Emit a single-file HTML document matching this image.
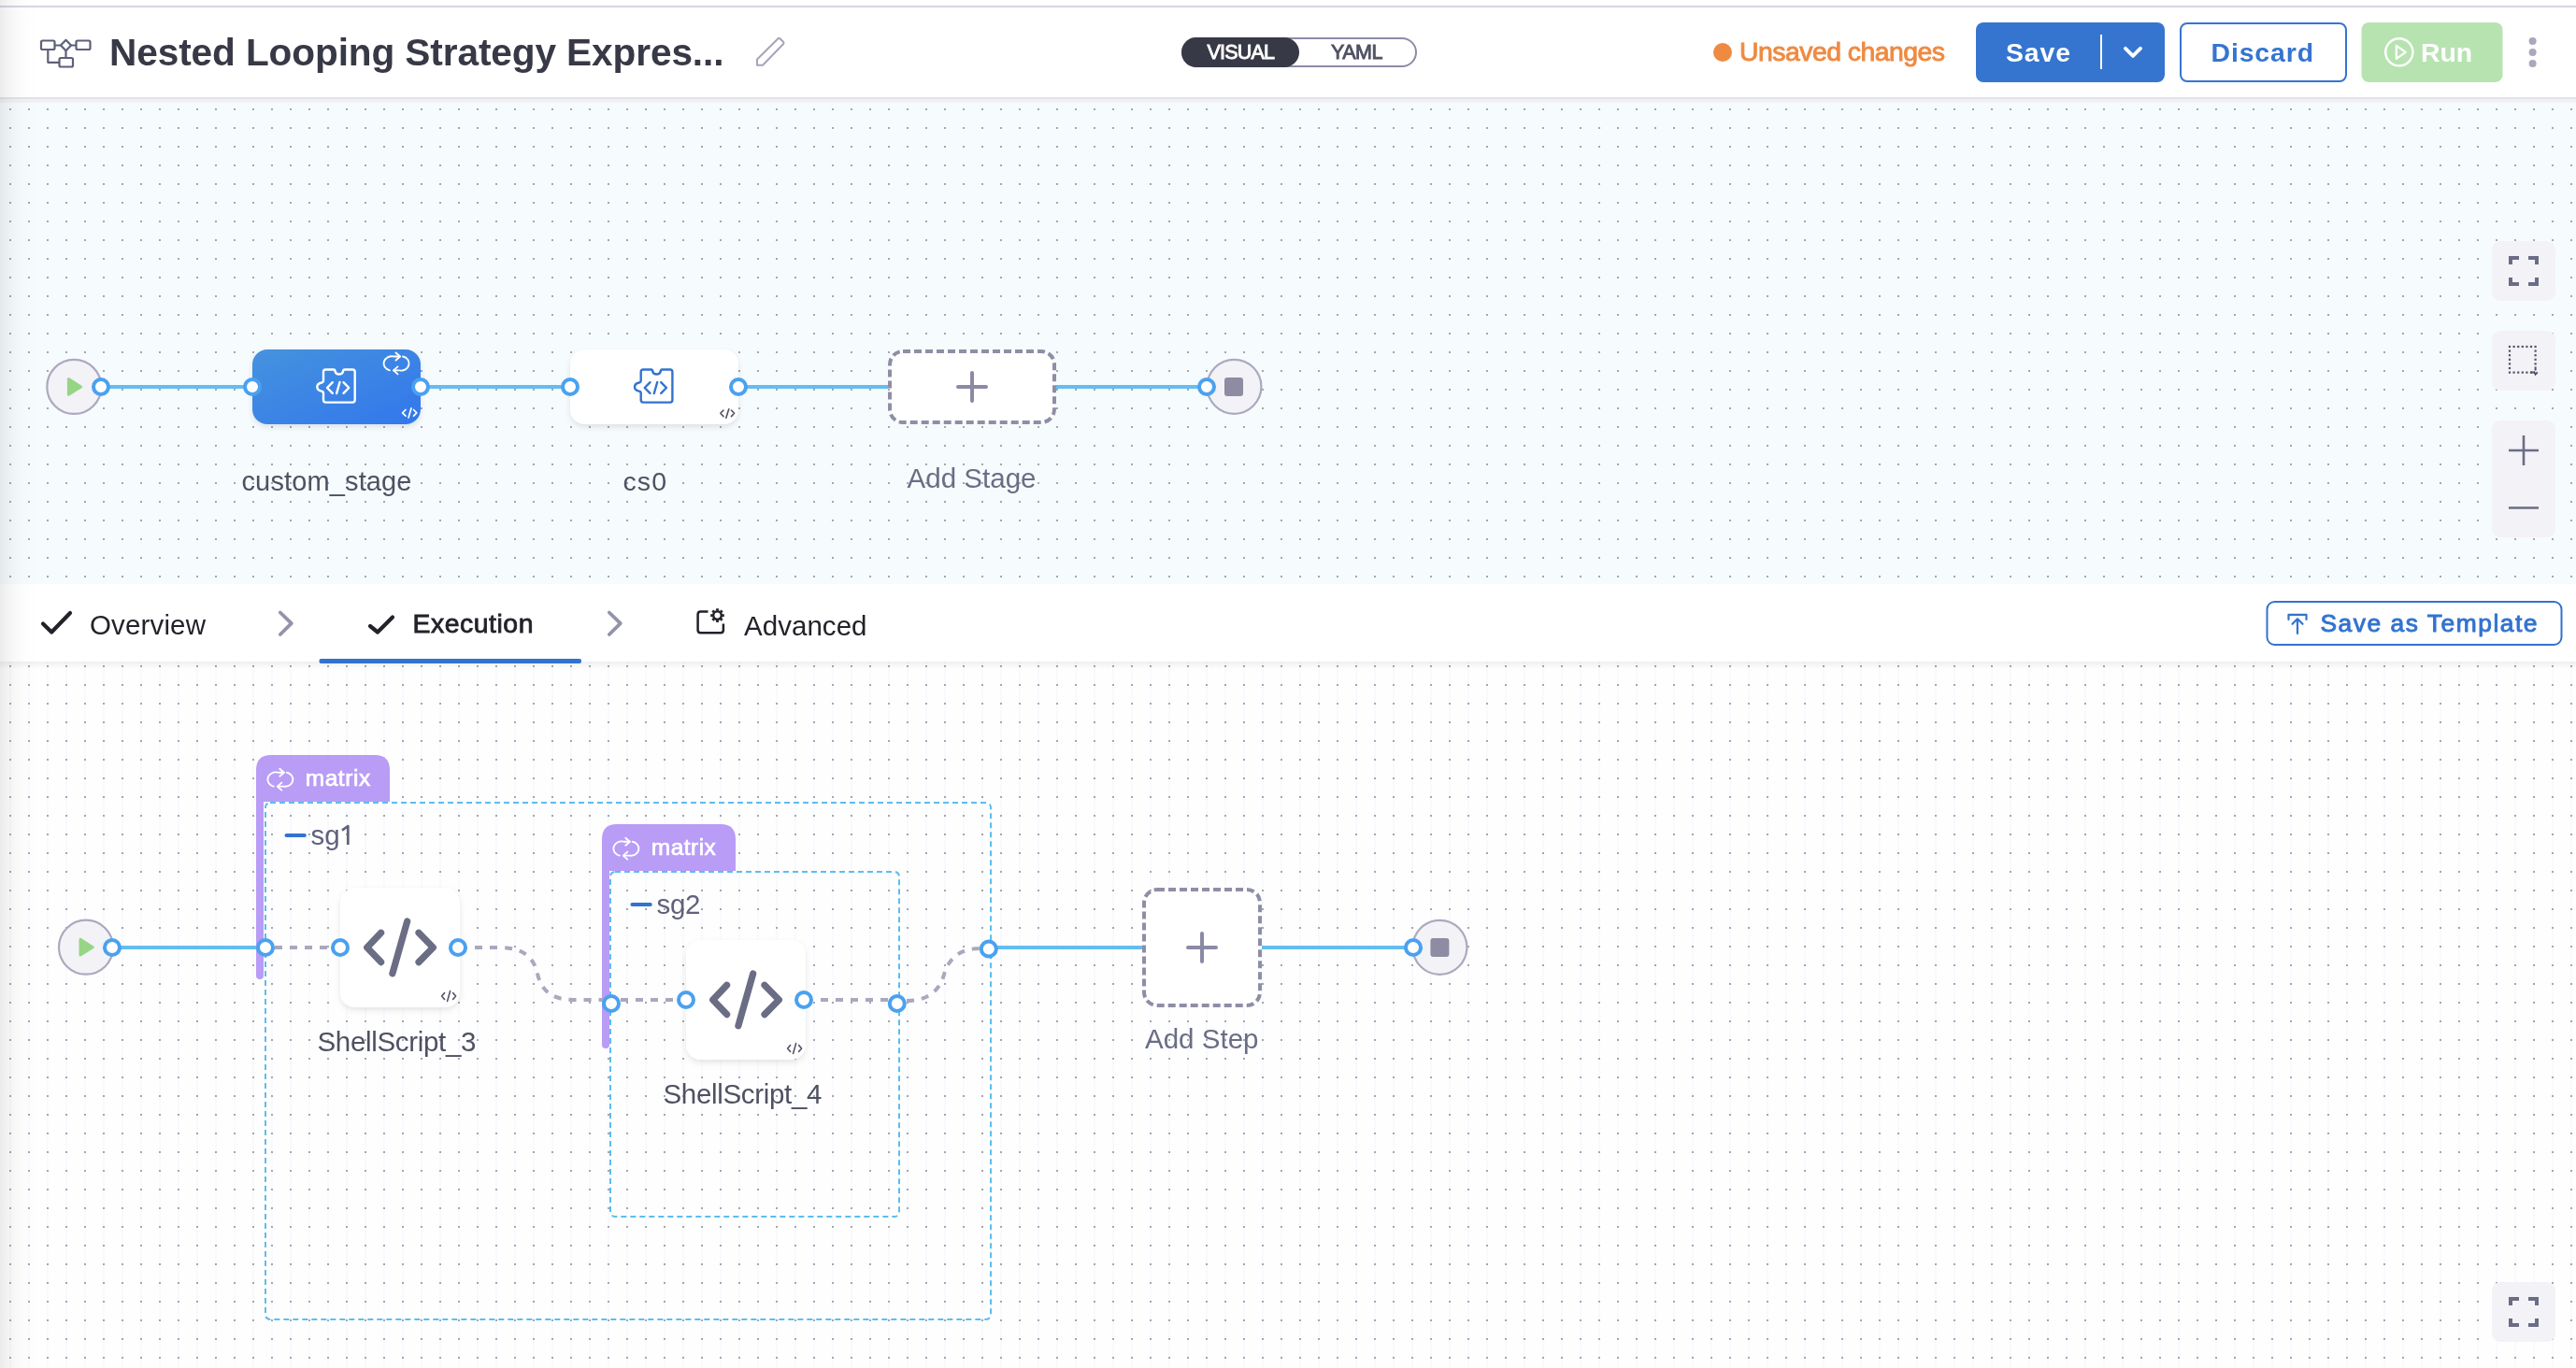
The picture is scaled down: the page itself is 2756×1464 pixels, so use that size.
<!DOCTYPE html>
<html><head><meta charset="utf-8">
<style>
html,body{margin:0;padding:0;}
body{width:2756px;height:1464px;overflow:hidden;position:relative;background:#fff;font-family:"Liberation Sans",sans-serif;}
.abs{position:absolute;}
svg text{font-family:"Liberation Sans",sans-serif;}
svg{will-change:transform;}
</style></head>
<body>
<svg class="abs" style="left:0;top:0" width="2756" height="1464" viewBox="0 0 2756 1464">
<defs>
  <pattern id="dotsTop" x="10" y="116" width="20" height="20" patternUnits="userSpaceOnUse">
    <rect x="0" y="0" width="2" height="2" fill="#a4a7ab"/>
  </pattern>
  <pattern id="dotsBot" x="10" y="712" width="20" height="20" patternUnits="userSpaceOnUse">
    <rect x="0" y="0" width="2" height="20" fill="#f7fafe"/>
    <rect x="0" y="0" width="2" height="2" fill="#a4a7ab"/>
  </pattern>
  <linearGradient id="leftShade" x1="0" y1="0" x2="1" y2="0">
    <stop offset="0" stop-color="#000" stop-opacity="0.075"/>
    <stop offset="0.2" stop-color="#000" stop-opacity="0.045"/>
    <stop offset="0.45" stop-color="#000" stop-opacity="0.02"/>
    <stop offset="0.7" stop-color="#000" stop-opacity="0.007"/>
    <stop offset="1" stop-color="#000" stop-opacity="0"/>
  </linearGradient>
  <linearGradient id="stageGrad" x1="0" y1="0" x2="1" y2="1">
    <stop offset="0" stop-color="#4692de"/>
    <stop offset="1" stop-color="#3277ec"/>
  </linearGradient>
  <linearGradient id="shadeDown" x1="0" y1="0" x2="0" y2="1">
    <stop offset="0" stop-color="#000" stop-opacity="0.06"/>
    <stop offset="1" stop-color="#000" stop-opacity="0"/>
  </linearGradient>
  <filter id="nodeShadow" x="-20%" y="-20%" width="140%" height="150%">
    <feDropShadow dx="0" dy="3" stdDeviation="3" flood-color="#000" flood-opacity="0.10"/>
  </filter>
</defs>

<!-- HEADER -->
<rect x="0" y="0" width="2756" height="104" fill="#fff"/>
<rect x="0" y="6" width="2756" height="2" fill="#d6d6e0"/>
<rect x="0" y="104" width="2756" height="2" fill="#e3e3e6"/>
<rect x="0" y="106" width="2756" height="4" fill="#f1f0f6"/>

<!-- TOP CANVAS -->
<rect x="0" y="110" width="2756" height="515" fill="#f6fbfe"/>
<rect x="0" y="110" width="2756" height="515" fill="url(#dotsTop)"/>

<!-- TABS -->
<rect x="0" y="625" width="2756" height="83" fill="#fff"/>

<!-- BOTTOM CANVAS -->
<rect x="0" y="708" width="2756" height="756" fill="#fefefe"/>
<rect x="0" y="708" width="2756" height="756" fill="url(#dotsBot)"/>
<rect x="0" y="708" width="2756" height="8" fill="url(#shadeDown)"/>


<!-- ===== HEADER CONTENT ===== -->
<!-- pipeline icon -->
<g fill="none" stroke="#5f6078" stroke-width="2.2" stroke-linejoin="round">
  <rect x="44" y="43.5" width="14.5" height="9.5" rx="1.5"/>
  <rect x="81.5" y="43.5" width="15" height="9.5" rx="1.5"/>
  <rect x="63.5" y="62" width="14.5" height="9.5" rx="1.5"/>
  <path d="M70.5,42.8 L76,48.5 L70.5,54.2 L65,48.5 Z"/>
  <path d="M58.5,48.5 H65 M76,48.5 H81.5 M70.5,54.2 V62 M51.3,53 V66.8 H63.5"/>
</g>
<text x="117" y="69.9" font-size="40.6" font-weight="700" fill="#383946" textLength="657.5" lengthAdjust="spacing">Nested Looping Strategy Expres...</text>
<!-- pencil -->
<path d="M810,63.5 L832.5,41.2 Q833.5,40.4 834.5,41.2 L838.2,45 Q839,46 838.2,47 L816,69.8 H810 Z" fill="none" stroke="#a4a4bb" stroke-width="2" stroke-linejoin="round"/>

<!-- toggle -->
<rect x="1265" y="41" width="250" height="30" rx="15" fill="#fff" stroke="#8c8ba7" stroke-width="2"/>
<rect x="1264" y="40" width="126" height="32" rx="16" fill="#383946"/>
<text x="1291.5" y="63.2" font-size="21.5" fill="#fff" stroke="#fff" stroke-width="0.9" textLength="72.5" lengthAdjust="spacing">VISUAL</text>
<text x="1424" y="63.2" font-size="21.5" fill="#4f5162" stroke="#4f5162" stroke-width="0.9" textLength="55.5" lengthAdjust="spacing">YAML</text>

<!-- unsaved -->
<circle cx="1843" cy="56" r="10" fill="#ef8a42"/>
<text x="1861" y="65" font-size="28.4" fill="#ef8a42" stroke="#ef8a42" stroke-width="0.9" textLength="220" lengthAdjust="spacing">Unsaved changes</text>

<!-- save -->
<rect x="2114" y="24" width="202" height="64" rx="8" fill="#3575d0"/>
<text x="2146" y="65.7" font-size="28.4" font-weight="700" fill="#fff" textLength="69" lengthAdjust="spacing">Save</text>
<rect x="2247" y="37" width="2" height="37" fill="#fff"/>
<path d="M2274,51.8 L2282,59.8 L2290,51.8" fill="none" stroke="#fff" stroke-width="3.8" stroke-linecap="round" stroke-linejoin="round"/>
<!-- discard -->
<rect x="2333" y="25" width="177" height="62" rx="7" fill="#fff" stroke="#3575d0" stroke-width="2"/>
<text x="2365.5" y="65.7" font-size="28.4" font-weight="700" fill="#3575d0" textLength="109.5" lengthAdjust="spacing">Discard</text>
<!-- run -->
<rect x="2526.5" y="24" width="151" height="64" rx="8" fill="#b7e3b1"/>
<circle cx="2566.8" cy="55.8" r="14.6" fill="none" stroke="#fff" stroke-width="2.4"/>
<path d="M2563.8,48.8 L2573.8,55.8 L2563.8,62.8 Z" fill="none" stroke="#fff" stroke-width="2.2" stroke-linejoin="round"/>
<text x="2590" y="65.7" font-size="28.4" font-weight="700" fill="#fff" textLength="55" lengthAdjust="spacing">Run</text>
<!-- kebab -->
<circle cx="2709.6" cy="44" r="4" fill="#a9a8bd"/>
<circle cx="2709.6" cy="56" r="4" fill="#a9a8bd"/>
<circle cx="2709.6" cy="68" r="4" fill="#a9a8bd"/>

<!-- ===== TOP CANVAS CONTENT ===== -->
<g stroke="#64bdf0" stroke-width="4">
  <line x1="108" y1="414" x2="270" y2="414"/>
  <line x1="450" y1="414" x2="610" y2="414"/>
  <line x1="790" y1="414" x2="950" y2="414"/>
  <line x1="1130" y1="414" x2="1291" y2="414"/>
</g>
<!-- start -->
<circle cx="79.3" cy="413.9" r="29" fill="#f3f2f7" stroke="#aba9be" stroke-width="2.2"/>
<path d="M73.4,405.6 L86.6,414 L73.4,422.3 Z" fill="#96d585" stroke="#96d585" stroke-width="3" stroke-linejoin="round"/>
<!-- custom_stage node -->
<rect x="270" y="374" width="180" height="80" rx="16" fill="url(#stageGrad)" filter="url(#nodeShadow)"/>
<!-- cs0 node -->
<rect x="610" y="374" width="180" height="80" rx="16" fill="#fff" filter="url(#nodeShadow)"/>
<!-- add stage -->
<rect x="952" y="376" width="176" height="76" rx="14" fill="#fff" stroke="#8f8ea6" stroke-width="4" stroke-dasharray="8 4"/>
<path d="M1025,414 H1055 M1040,399 V429" stroke="#8b8aa6" stroke-width="4" stroke-linecap="round"/>
<!-- end -->
<circle cx="1320.4" cy="413.8" r="29" fill="#f3f2f7" stroke="#aba9be" stroke-width="2.2"/>
<rect x="1310" y="404" width="20" height="20" rx="3" fill="#8d8ca3"/>

<!-- puzzle icons -->
<g id="puzzleCs0" transform="translate(678,394)" fill="none" stroke="#3273cf" stroke-width="2.4" stroke-linejoin="round" stroke-linecap="round">
  <path d="M7.7,4 Q7.7,1.5 10.2,1.5 H18.6 Q20.1,1.5 20.1,3 A4.5,4.5 0 0 0 28.9,3 Q28.9,1.5 30.4,1.5 H39 Q41.4,1.5 41.4,4 V34.1 Q41.4,36.6 39,36.6 H10.2 Q7.7,36.6 7.7,34.1 V26.2 Q7.5,25 5.8,24.7 Q1,23.6 1,20.1 Q1,16.4 5.8,15.5 Q7.7,15 7.7,13.6 Z"/>
  <path d="M17.5,15.2 L11.7,21 L17.5,26.8 M25.2,15 L21.8,27 M29.2,15.2 L35,21 L29.2,26.8"/>
</g>
<g transform="translate(338.3,394)" fill="none" stroke="#fff" stroke-width="2.4" stroke-linejoin="round" stroke-linecap="round">
  <path d="M7.7,4 Q7.7,1.5 10.2,1.5 H18.6 Q20.1,1.5 20.1,3 A4.5,4.5 0 0 0 28.9,3 Q28.9,1.5 30.4,1.5 H39 Q41.4,1.5 41.4,4 V34.1 Q41.4,36.6 39,36.6 H10.2 Q7.7,36.6 7.7,34.1 V26.2 Q7.5,25 5.8,24.7 Q1,23.6 1,20.1 Q1,16.4 5.8,15.5 Q7.7,15 7.7,13.6 Z"/>
  <path d="M17.5,15.2 L11.7,21 L17.5,26.8 M25.2,15 L21.8,27 M29.2,15.2 L35,21 L29.2,26.8"/>
</g>
<!-- loop icon on custom_stage -->
<g transform="translate(410.5,377)" fill="none" stroke="#fff" stroke-width="1.9" stroke-linecap="round" stroke-linejoin="round">
  <path d="M6.5,19.4 A8.5,7.5 0 0 1 11,4.5 H17.5"/>
  <path d="M13,0.5 L17.5,4.5 L13,8.5"/>
  <path d="M20.5,4.5 A8.2,7.5 0 0 1 17,19.4 H10.5"/>
  <path d="M15,15.4 L10.5,19.4 L15,23.4"/>
</g>
<!-- small code icons -->
<g fill="none" stroke="#fff" stroke-width="1.7" stroke-linecap="round" stroke-linejoin="round">
  <path d="M434,438.5 L430.6,441.8 L434,445.2 M440,436.8 L437,447 M442.5,438.5 L445.8,441.8 L442.5,445.2"/>
</g>
<g fill="none" stroke="#4f5162" stroke-width="1.6" stroke-linecap="round" stroke-linejoin="round">
  <path d="M774,439 L770.8,442.3 L774,445.6 M779.8,437.8 L776.8,447.2 M782.4,439 L785.6,442.3 L782.4,445.6"/>
</g>
<!-- ports -->
<g fill="#fff" stroke="#4ba1ef" stroke-width="4">
  <circle cx="108" cy="414" r="8"/>
  <circle cx="270" cy="414" r="8"/>
  <circle cx="450" cy="414" r="8"/>
  <circle cx="610" cy="414" r="8"/>
  <circle cx="790" cy="414" r="8"/>
  <circle cx="1291" cy="414" r="8"/>
</g>
<!-- labels -->
<text x="258.5" y="524.6" font-size="29" fill="#4f5162" textLength="182" lengthAdjust="spacing">custom_stage</text>
<text x="666.5" y="524.8" font-size="28.5" fill="#4f5162" textLength="46.5" lengthAdjust="spacing">cs0</text>
<text x="970.5" y="521.7" font-size="29.5" fill="#6b6d85" textLength="138" lengthAdjust="spacing">Add Stage</text>

<!-- controls -->
<rect x="2666" y="258" width="68" height="64" rx="9" fill="#f3f2f7"/>
<rect x="2666" y="354" width="68" height="64" rx="9" fill="#f3f2f7"/>
<rect x="2666" y="450" width="68" height="125" rx="9" fill="#f3f2f7"/>
<g id="fsIcon" fill="none" stroke="#6b6d85" stroke-width="4">
  <path d="M2686,283 V276 H2695 M2705,276 H2714 V283 M2714,297 V304 H2705 M2695,304 H2686 V297"/>
</g>
<g fill="#50526a"><rect x="2683.9" y="369.9" width="2.2" height="2.2"/><rect x="2683.9" y="374.5" width="2.2" height="2.2"/><rect x="2683.9" y="379.1" width="2.2" height="2.2"/><rect x="2683.9" y="383.7" width="2.2" height="2.2"/><rect x="2683.9" y="388.3" width="2.2" height="2.2"/><rect x="2683.9" y="392.9" width="2.2" height="2.2"/><rect x="2683.9" y="397.5" width="2.2" height="2.2"/><rect x="2688.5" y="369.9" width="2.2" height="2.2"/><rect x="2688.5" y="397.5" width="2.2" height="2.2"/><rect x="2693.1" y="369.9" width="2.2" height="2.2"/><rect x="2693.1" y="397.5" width="2.2" height="2.2"/><rect x="2697.7" y="369.9" width="2.2" height="2.2"/><rect x="2697.7" y="397.5" width="2.2" height="2.2"/><rect x="2702.3" y="369.9" width="2.2" height="2.2"/><rect x="2702.3" y="397.5" width="2.2" height="2.2"/><rect x="2706.9" y="369.9" width="2.2" height="2.2"/><rect x="2706.9" y="397.5" width="2.2" height="2.2"/><rect x="2711.5" y="369.9" width="2.2" height="2.2"/><rect x="2711.5" y="374.5" width="2.2" height="2.2"/><rect x="2711.5" y="379.1" width="2.2" height="2.2"/><rect x="2711.5" y="383.7" width="2.2" height="2.2"/><rect x="2711.5" y="388.3" width="2.2" height="2.2"/></g>
<path d="M2712.6,392.5 V396.6 M2707.2,398.6 H2710.6 M2710.8,397.5 L2712.6,400.6 L2714.8,398.4" fill="none" stroke="#50526a" stroke-width="2"/>
<path d="M2684,482 H2716 M2700,466 V498 M2684,543.5 H2716" stroke="#6b6d85" stroke-width="2.6"/>

<!-- ===== TABS ===== -->
<path d="M46,667.5 L55.2,676.5 L75,656" fill="none" stroke="#22222a" stroke-width="4.2" stroke-linecap="round" stroke-linejoin="round"/>
<text x="96" y="678.9" font-size="29.5" fill="#22222a" textLength="124" lengthAdjust="spacing">Overview</text>
<path d="M299.8,655.5 L311.8,667.2 L299.8,679" fill="none" stroke="#9293ab" stroke-width="3.8" stroke-linecap="round" stroke-linejoin="round"/>
<path d="M396,670 L404,676.5 L420,660.5" fill="none" stroke="#22222a" stroke-width="4.2" stroke-linecap="round" stroke-linejoin="round"/>
<text x="441.5" y="677.4" font-size="28.4" fill="#22222a" stroke="#22222a" stroke-width="0.8" textLength="129" lengthAdjust="spacing">Execution</text>
<rect x="341.5" y="705" width="280.5" height="5" rx="2" fill="#3273cf"/>
<path d="M651.8,655.5 L663.8,667.2 L651.8,679" fill="none" stroke="#9293ab" stroke-width="3.8" stroke-linecap="round" stroke-linejoin="round"/>
<!-- advanced icon -->
<g fill="none" stroke="#22222a" stroke-width="2.5" stroke-linejoin="round">
  <path d="M757.5,654.6 H749.6 Q746.6,654.6 746.6,657.6 V674.2 Q746.6,677.2 749.6,677.2 H770.9 Q773.9,677.2 773.9,674.2 V667.5"/>
  <circle cx="767.5" cy="658.6" r="4.3"/>
</g>
<path d="M772.50,658.60 L774.80,658.60 M771.04,662.14 L772.66,663.76 M767.50,663.60 L767.50,665.90 M763.96,662.14 L762.34,663.76 M762.50,658.60 L760.20,658.60 M763.96,655.06 L762.34,653.44 M767.50,653.60 L767.50,651.30 M771.04,655.06 L772.66,653.44" stroke="#22222a" stroke-width="2.8"/>
<text x="796" y="679.8" font-size="29.5" fill="#22222a" textLength="131.5" lengthAdjust="spacing">Advanced</text>
<!-- save as template -->
<rect x="2425.5" y="644" width="315" height="46" rx="8" fill="#fff" stroke="#3273cf" stroke-width="2"/>
<g fill="none" stroke="#3273cf" stroke-width="2.2" stroke-linecap="round" stroke-linejoin="round">
  <path d="M2448.5,663 V657.8 H2467.5 V663"/>
  <path d="M2458,678 V662.5 M2452.5,667.8 L2458,662.3 L2463.5,667.8"/>
</g>
<text x="2482.5" y="676" font-size="26.4" fill="#3273cf" stroke="#3273cf" stroke-width="0.9" textLength="232" lengthAdjust="spacing">Save as Template</text>

<!-- ===== BOTTOM CANVAS CONTENT ===== -->
<!-- solid lines -->
<g stroke="#64bdf0" stroke-width="4">
  <line x1="120" y1="1014" x2="284" y2="1014"/>
  <line x1="1058" y1="1014" x2="1222" y2="1014"/>
  <line x1="1350" y1="1014" x2="1512" y2="1014"/>
</g>
<!-- start -->
<circle cx="92" cy="1013.7" r="29" fill="#f3f2f7" stroke="#aba9be" stroke-width="2.2"/>
<path d="M86,1005.3 L99.2,1013.7 L86,1022 Z" fill="#96d585" stroke="#96d585" stroke-width="3" stroke-linejoin="round"/>

<!-- sg1 container -->
<rect x="284" y="859" width="776" height="553" rx="5" fill="none" stroke="#5cbdf0" stroke-width="2" stroke-dasharray="6 4"/>
<path d="M274,858 V824 Q274,808 290,808 H401 Q417,808 417,824 V858 Z" fill="#b99cf6"/>
<path d="M274,856 H282 V1044 Q282,1048 278,1048 Q274,1048 274,1044 Z" fill="#b99cf6"/>
<g transform="translate(286.3,822.2)" fill="none" stroke="#fff" stroke-width="1.9" stroke-linecap="round" stroke-linejoin="round">
  <path d="M6.5,19.4 A8.5,7.5 0 0 1 11,4.5 H17.5"/>
  <path d="M13,0.5 L17.5,4.5 L13,8.5"/>
  <path d="M20.5,4.5 A8.2,7.5 0 0 1 17,19.4 H10.5"/>
  <path d="M15,15.4 L10.5,19.4 L15,23.4"/>
</g>
<text x="326.8" y="840.8" font-size="24.4" fill="#fff" stroke="#fff" stroke-width="0.7" textLength="69.3" lengthAdjust="spacing">matrix</text>
<line x1="306.5" y1="894" x2="325.8" y2="894" stroke="#3273cf" stroke-width="4" stroke-linecap="round"/>
<text x="332.5" y="904" font-size="29.5" fill="#60617a">sg</text><path d="M372.3,904 V884 L366,888.6" fill="none" stroke="#60617a" stroke-width="2.7" stroke-linejoin="round"/>

<!-- sg2 container -->
<rect x="653" y="933" width="309" height="369" rx="5" fill="none" stroke="#5cbdf0" stroke-width="2" stroke-dasharray="6 4"/>
<path d="M644,932 V898 Q644,882 660,882 H771 Q787,882 787,898 V932 Z" fill="#b99cf6"/>
<path d="M644,930 H652 V1118 Q652,1122 648,1122 Q644,1122 644,1118 Z" fill="#b99cf6"/>
<g transform="translate(656.3,896.2)" fill="none" stroke="#fff" stroke-width="1.9" stroke-linecap="round" stroke-linejoin="round">
  <path d="M6.5,19.4 A8.5,7.5 0 0 1 11,4.5 H17.5"/>
  <path d="M13,0.5 L17.5,4.5 L13,8.5"/>
  <path d="M20.5,4.5 A8.2,7.5 0 0 1 17,19.4 H10.5"/>
  <path d="M15,15.4 L10.5,19.4 L15,23.4"/>
</g>
<text x="696.8" y="915" font-size="24.4" fill="#fff" stroke="#fff" stroke-width="0.7" textLength="69" lengthAdjust="spacing">matrix</text>
<line x1="676.4" y1="968" x2="695.8" y2="968" stroke="#3273cf" stroke-width="4" stroke-linecap="round"/>
<text x="702.5" y="977.9" font-size="29.5" fill="#60617a" textLength="47" lengthAdjust="spacing">sg2</text>

<!-- gray dashed connectors -->
<g fill="none" stroke="#a9a8bd" stroke-width="4" stroke-dasharray="8 8">
  <path d="M294,1014 H354"/>
  <path d="M508,1014 H535 C563,1014 572,1028 575,1042 C578,1056 587,1070 613,1070 H653"/>
  <path d="M664,1070 H724"/>
  <path d="M878,1070 H950"/>
  <path d="M970,1071 C996,1071 1006,1057 1010,1043 C1014,1029 1024,1015 1048,1015"/>
</g>

<!-- SS3 node -->
<rect x="364" y="950" width="128" height="128" rx="16" fill="#fff" filter="url(#nodeShadow)"/>
<g fill="none" stroke="#6b6d85" stroke-width="7.2" stroke-linecap="round" stroke-linejoin="round">
  <path d="M407.6,998.2 L392.7,1014 L407.6,1029.6 M435.7,986 L419.9,1041.7 M448,998.2 L463.4,1014 L448,1029.6"/>
</g>
<g fill="none" stroke="#4f5162" stroke-width="1.6" stroke-linecap="round" stroke-linejoin="round">
  <path d="M475.6,1062.5 L472.6,1066 L475.6,1069.5 M481.6,1060.6 L478.6,1071.4 M484.6,1062.5 L487.6,1066 L484.6,1069.5"/>
</g>
<text x="339.5" y="1125" font-size="29.5" fill="#4f5162" textLength="170" lengthAdjust="spacing">ShellScript_3</text>

<!-- SS4 node -->
<rect x="734" y="1006" width="128" height="128" rx="16" fill="#fff" filter="url(#nodeShadow)"/>
<g fill="none" stroke="#6b6d85" stroke-width="7.2" stroke-linecap="round" stroke-linejoin="round">
  <path d="M777.6,1054.2 L762.7,1070 L777.6,1085.6 M805.7,1042 L789.9,1097.7 M818,1054.2 L833.4,1070 L818,1085.6"/>
</g>
<g fill="none" stroke="#4f5162" stroke-width="1.6" stroke-linecap="round" stroke-linejoin="round">
  <path d="M845.6,1118.5 L842.6,1122 L845.6,1125.5 M851.6,1116.6 L848.6,1127.4 M854.6,1118.5 L857.6,1122 L854.6,1125.5"/>
</g>
<text x="709.5" y="1181" font-size="29.5" fill="#4f5162" textLength="170" lengthAdjust="spacing">ShellScript_4</text>

<!-- add step -->
<rect x="1224" y="952" width="124" height="124" rx="14" fill="#fff" stroke="#8f8ea6" stroke-width="4" stroke-dasharray="8 4"/>
<path d="M1271,1014 H1301 M1286,999 V1029" stroke="#8b8aa6" stroke-width="4" stroke-linecap="round"/>
<text x="1225" y="1121.7" font-size="29.5" fill="#6b6d85" textLength="121.5" lengthAdjust="spacing">Add Step</text>
<!-- end -->
<circle cx="1540.4" cy="1013.8" r="29" fill="#f3f2f7" stroke="#aba9be" stroke-width="2.2"/>
<rect x="1530.4" y="1004" width="20" height="20" rx="3" fill="#8d8ca3"/>

<!-- bottom ports -->
<g fill="#fff" stroke="#4ba1ef" stroke-width="4">
  <circle cx="120" cy="1014" r="8"/>
  <circle cx="284" cy="1014" r="8"/>
  <circle cx="364" cy="1014" r="8"/>
  <circle cx="490" cy="1014" r="8"/>
  <circle cx="654" cy="1074" r="8"/>
  <circle cx="734" cy="1070" r="8"/>
  <circle cx="860" cy="1070" r="8"/>
  <circle cx="959.8" cy="1074" r="8"/>
  <circle cx="1057.8" cy="1015.5" r="8"/>
  <circle cx="1512" cy="1014" r="8"/>
</g>

<!-- bottom fullscreen -->
<rect x="2666" y="1372" width="68" height="64" rx="9" fill="#f3f2f7"/>
<path d="M2686,1397 V1390 H2695 M2705,1390 H2714 V1397 M2714,1411 V1418 H2705 M2695,1418 H2686 V1411" fill="none" stroke="#6b6d85" stroke-width="4"/>

<!-- left edge shade -->
<rect x="0" y="0" width="40" height="1464" fill="url(#leftShade)"/>

</svg>
</body></html>
